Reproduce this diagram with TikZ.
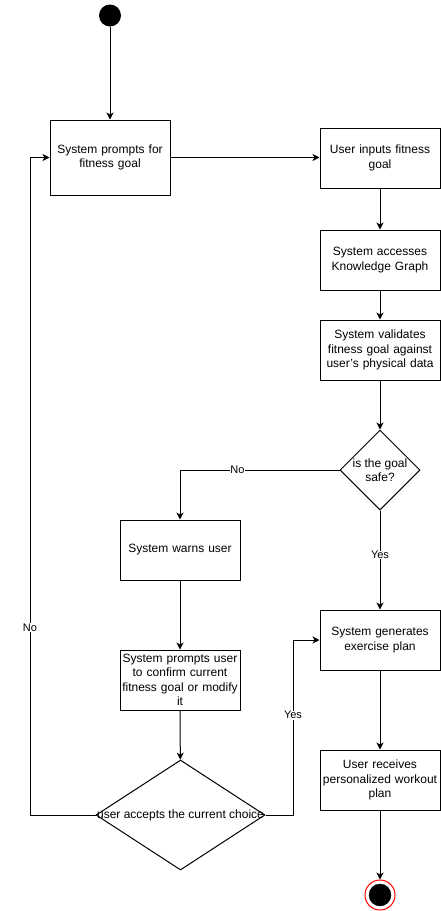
\documentclass[tikz,border=0pt]{standalone}
\usepackage{fontspec}
\setmainfont{Liberation Sans}
\usetikzlibrary{shapes.geometric,arrows.meta}
\begin{document}
\begin{tikzpicture}[x=1pt,y=-1pt,
  every node/.style={font=\fontsize{12}{14.5}\selectfont},
  box/.style={draw,line width=1pt,fill=white,minimum width=120pt,minimum height=60pt,inner sep=0pt,text width=120pt,align=center},
  dia/.style={draw,line width=1pt,fill=white,diamond,inner sep=0pt},
  arr/.style={line width=1pt,-{Stealth[length=7pt,width=7pt,inset=2pt]}},
  lbl/.style={fill=white,inner sep=0.5pt,font=\fontsize{11}{13}\selectfont}]
\useasboundingbox (0,0) rectangle (441,911);
\node[circle,fill=black,minimum size=22pt,inner sep=0pt] (start) at (110,15.5) {};
\node[box,minimum height=75pt] (b1) at (110,157.5) {System prompts for\\fitness goal};
\node[box] (b2) at (380,158) {User inputs fitness\\goal};
\node[box] (b3) at (380,260) {System accesses\\Knowledge Graph};
\node[box] (b4) at (380,350) {System validates\\fitness goal against\\user\symbol{39}s physical data};
\node[dia,minimum width=80pt,minimum height=80pt,label={[align=center,font=\fontsize{12}{14.5}\selectfont]center:is the goal\\safe?}] (d1) at (380,470) {};
\node[box] (b5) at (180,550) {System warns user};
\node[box] (b6) at (380,640) {System generates\\exercise plan};
\node[box] (b7) at (180,680) {System prompts user\\to confirm current\\fitness goal or modify\\it};
\node[dia,minimum width=169pt,minimum height=110pt,label={[font=\fontsize{12}{14.5}\selectfont]center:user accepts the current choice}] (d2) at (180.5,815) {};
\node[box] (b8) at (380,780) {User receives\\personalized workout\\plan};
\node[circle,draw=red,line width=1pt,fill=white,minimum size=30pt,inner sep=0pt] (end) at (380,895) {};
\node[circle,fill=black,draw=black,minimum size=22pt,inner sep=0pt] (endin) at (380,895) {};
\coordinate (c1) at (30,815);
\coordinate (c3) at (293,815);
\draw[arr] (start) -- (b1);
\draw[arr] (b1.east) -- (b1.east -| b2.west);
\draw[arr] (b2) -- (b3);
\draw[arr] (b3) -- (b4);
\draw[arr] (b4) -- (d1);
\draw[arr] (d1.west) -| node[lbl,pos=0.32] {No} (b5.north);
\draw[arr] (d1.south) -- node[lbl,pos=0.45] {Yes} (b6.north);
\draw[arr] (b5) -- (b7);
\draw[arr] (b7) -- (d2);
\draw[arr] (d2.west) -- (c1) -- node[lbl,pos=0.285] {No} (c1 |- b1.west) -- (b1.west);
\draw[arr] (d2.east) -- (c3) -- node[lbl,pos=0.57] {Yes} (c3 |- b6.west) -- (b6.west);
\draw[arr] (b6) -- (b8);
\draw[arr] (b8) -- (end);
\end{tikzpicture}
\end{document}
